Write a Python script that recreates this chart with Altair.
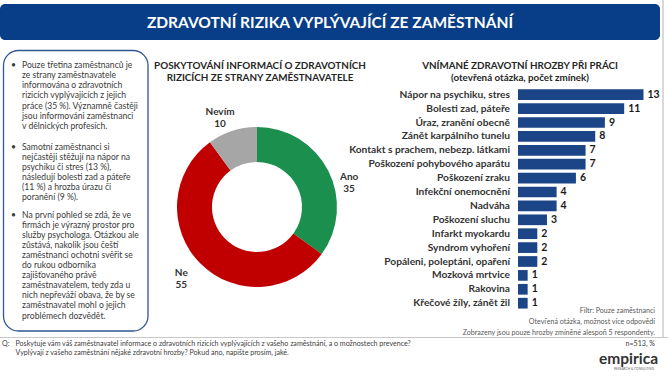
import altair as alt
import pandas as pd

# ---------------- data ----------------
threats = [
    "Nápor na psychiku, stres", "Bolesti zad, páteře", "Úraz, zranění obecně",
    "Zánět karpálního tunelu", "Kontakt s prachem, nebezp. látkami",
    "Poškození pohybového aparátu", "Poškození zraku", "Infekční onemocnění",
    "Nadváha", "Poškození sluchu", "Infarkt myokardu", "Syndrom vyhoření",
    "Popáleni, poleptáni, opaření", "Mozková mrtvice", "Rakovina", "Křečové žíly, zánět žil",
]
counts = [13, 11, 9, 8, 7, 7, 6, 4, 4, 3, 2, 2, 2, 1, 1, 1]

pie_labels = ["Ano", "Ne", "Nevím"]
pie_values = [35, 55, 10]
pie_colors = ["#1a8f4e", "#c00000", "#a6a6a6"]

title_text = "ZDRAVOTNÍ RIZIKA VYPLÝVAJÍCÍ ZE ZAMĚSTNÁNÍ"
donut_title = ["POSKYTOVÁNÍ INFORMACÍ O ZDRAVOTNÍCH", "RIZICÍCH ZE STRANY ZAMĚSTNAVATELE"]
bar_title = ["VNÍMANÉ ZDRAVOTNÍ HROZBY PŘI PRÁCI", "(otevřená otázka, počet zmínek)"]

para1 = ["Pouze třetina zaměstnanců je", "ze strany zaměstnavatele",
         "informována o zdravotních", "rizicích vyplývajících z jejich",
         "práce (35 %). Významně častěji", "jsou informováni zaměstnanci",
         "v dělnických profesích."]
para2 = ["Samotní zaměstnanci si", "nejčastěji stěžují na nápor na",
         "psychiku či stres (13 %),", "následují bolesti zad a páteře",
         "(11 %) a hrozba úrazu či", "poranění (9 %)."]
para3 = ["Na první pohled se zdá, že ve", "firmách je výrazný prostor pro",
         "služby psychologa. Otázkou ale", "zůstává, nakolik jsou čeští",
         "zaměstnanci ochotni svěřit se", "do rukou odborníka",
         "zajišťovaného právě", "zaměstnavatelem, tedy zda u",
         "nich nepřeváží obava, že by se", "zaměstnavatel mohl o jejich",
         "problémech dozvědět."]

notes = ["Filtr: Pouze zaměstnanci", "Otevřená otázka, možnost více odpovědí",
         "Zobrazeny jsou pouze hrozby zmíněné alespoň 5 respondenty."]
question = ["Poskytuje vám váš zaměstnavatel informace o zdravotních rizicích vyplývajících z vašeho zaměstnání, a o možnostech prevence?",
            "Vyplývají z vašeho zaměstnání nějaké zdravotní hrozby? Pokud ano, napište prosím, jaké."]
sample_note = "n=513, %"

FONT = "Lato"
TXT = "#3a3a3a"


def txt(text, x, y, size=8, align="left", weight="normal", color=TXT,
        baseline="alphabetic", lh=None, font=FONT):
    if isinstance(text, list):
        text = "\n".join(text)
    kw = dict(align=align, baseline=baseline, fontSize=size, fontWeight=weight,
              color=color, font=font, lineBreak="\n")
    if lh:
        kw["lineHeight"] = lh
    return alt.Chart(pd.DataFrame({"t": [text]})).mark_text(**kw).encode(
        text="t:N", x=alt.value(x), y=alt.value(y))


def box(x, x2, y, y2, **kw):
    return alt.Chart(pd.DataFrame({"a": [0]})).mark_rect(**kw).encode(
        x=alt.value(x), x2=alt.value(x2), y=alt.value(y), y2=alt.value(y2))


# ---------------- frame ----------------
banner = box(0, 660, 4, 40, color="#073e87", cornerRadius=5)
banner_t = txt(title_text, 330, 27.5, size=15.5, align="center", weight="bold", color="white")
right_edge = box(662, 664, 0, 338, color="#d9d9d9")
footer_rule = box(0, 668, 337, 338, color="#c8c8c8")

# ---------------- left text box ----------------
left_box = box(3.5, 148, 50.5, 331, fill="white", stroke="#2f5597",
               strokeWidth=1.3, cornerRadius=15)
bul = "•"
LS = 8.6
left_texts = [
    txt(bul, 11, 68, size=LS), txt(para1, 22, 68, size=LS, lh=10.15),
    txt(bul, 11, 149.7, size=LS), txt(para2, 22, 149.7, size=LS, lh=10.05),
    txt(bul, 11, 218, size=LS), txt(para3, 22, 218, size=LS, lh=10.05),
]

# ---------------- donut ----------------
pie_df = pd.DataFrame({"k": pie_labels, "v": pie_values, "o": list(range(len(pie_labels)))})
tsc = alt.Scale(domain=[0, sum(pie_values)])
pie_base = alt.Chart(pie_df).transform_stack(
    stack="v", as_=["v0", "v1"], groupby=[], sort=[alt.SortField("o", order="ascending")]
).transform_calculate(
    mid="(datum.v0 + datum.v1) / 2", lab="datum.k + '\\n' + datum.v"
).encode(x=alt.value(257), y=alt.value(207))
arcs = pie_base.mark_arc(radius=80, radius2=45, strokeWidth=0).encode(
    theta=alt.Theta("v0:Q", scale=tsc), theta2="v1:Q",
    color=alt.Color("k:N", scale=alt.Scale(domain=pie_labels, range=pie_colors), legend=None)
)
label_kw = dict(radius=100, fontSize=10, fontWeight="bold", font=FONT, color="#333333",
                lineBreak="\n", lineHeight=12.5, baseline="middle")
label_shift = {"Ano": (3, 15), "Ne": (-5, -5), "Nevím": (-6, 0)}
arc_labs = [
    pie_base.transform_filter(alt.datum.k == k).mark_text(dx=dx, dy=dy, **label_kw)
    .encode(theta=alt.Theta("mid:Q", scale=tsc), text="lab:N")
    for k, (dx, dy) in label_shift.items()
]
donut = alt.layer(arcs, *arc_labs)
donut_t = txt(donut_title, 260, 68.5, size=9.9, align="center", weight="bold",
              color="#262626", lh=12)

# ---------------- bars ----------------
bar_df = pd.DataFrame({"threat": threats, "count": counts})
ysc = alt.Scale(range=[87.75, 310.15], paddingInner=0.23, paddingOuter=0.115)
xsc = alt.Scale(domain=[0, 13], range=[518, 643.5], nice=False, zero=True)
bbase = alt.Chart(bar_df).encode(y=alt.Y("threat:N", sort=None, scale=ysc, axis=None))
bars = bbase.mark_bar(color="#1c4587").encode(x=alt.X("count:Q", scale=xsc, axis=None))
vals = bbase.mark_text(align="left", dx=4, fontSize=10.5, fontWeight="bold",
                       font=FONT, color="#1a1a1a").encode(
    x=alt.X("count:Q", scale=xsc, axis=None), text="count:Q")
labs = bbase.mark_text(align="right", fontSize=10.2, fontWeight="bold",
                       font=FONT, color="#333333").encode(
    x=alt.value(510), text="threat:N")
barchart = alt.layer(bars, vals, labs)
bar_t = txt(bar_title, 520, 68.5, size=9.8, align="center", weight="bold",
            color="#262626", lh=12)

# ---------------- notes / footer ----------------
notes_t = txt(notes, 655, 312.5, size=7.1, align="right", color="#595959", lh=11)
q_mark = txt("Q:", 2, 346, size=7.1, color="#404040")
q_t = txt(question, 15.5, 346, size=7.1, color="#404040", lh=8.5)
n_t = txt(sample_note, 655, 345.5, size=7.1, align="right", color="#404040")
logo = txt("empirica", 658, 363.5, size=15.5, align="right", weight="bold", color="#333333")
logo2 = txt("RESEARCH & CONSULTING", 634, 369.5, size=3.2, align="center", color="#666666")

chart = alt.layer(
    banner, banner_t, right_edge, footer_rule,
    left_box, *left_texts,
    donut, donut_t,
    barchart, bar_t,
    notes_t, q_mark, q_t, n_t, logo, logo2,
).resolve_scale(
    x="independent", y="independent", theta="independent", color="independent"
).properties(
    width=668, height=376, padding=0,
    autosize=alt.AutoSizeParams(type="none"),
    background="white",
).configure_view(strokeWidth=0)

chart.save("out.html", embed_options={"renderer": "svg", "actions": False})
